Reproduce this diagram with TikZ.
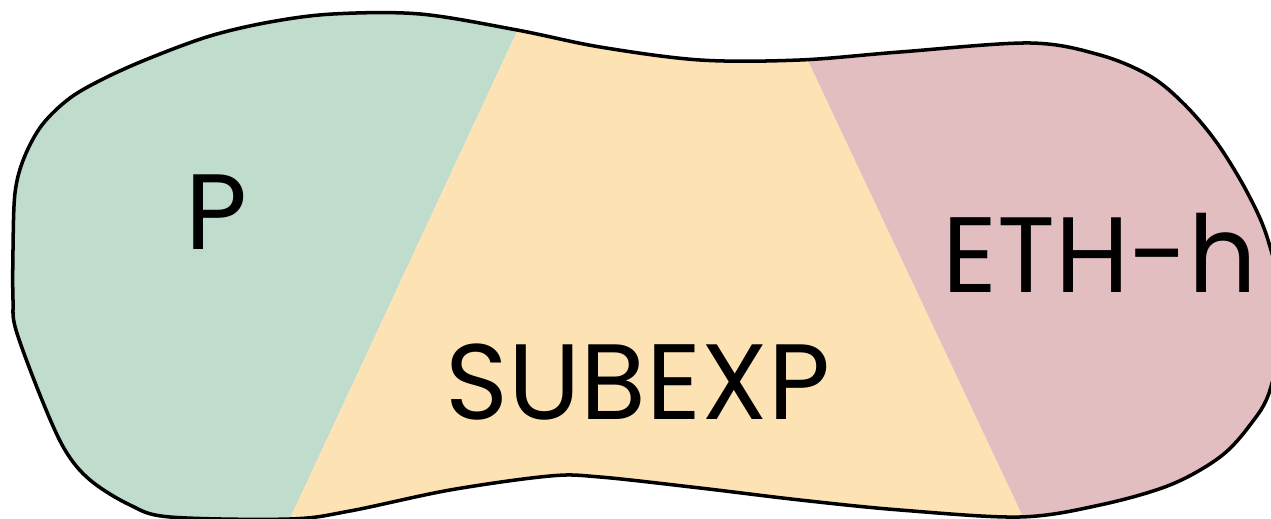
\documentclass[tikz,border=0pt]{standalone}
\usepackage{fontspec}
\setmainfont{Poppins}
\definecolor{pgreen}{RGB}{192,220,205}
\definecolor{subyellow}{RGB}{253,227,179}
\definecolor{ethpink}{RGB}{226,190,192}
\tikzset{
  classlabel/.style={anchor=base, inner sep=0pt, font=\fontsize{61}{72}\selectfont},
}
\begin{document}
\begin{tikzpicture}[x=0.02cm, y=-0.02cm, line join=round]
	\clip (0,0) rectangle (1271,519);
	% outline of the world of problems
	\path[save path=\blobpath] plot[smooth cycle, tension=0.55] coordinates {
		(13,250) (15,193) (24,158) (42,125) (70,98) (105,78) (150,58) (210,36)
		(270,22) (333,14) (420,14) (517,30) (600,47) (700,60) (800,60) (900,52)
		(1030,43) (1100,55) (1150,76) (1185,105) (1217,143) (1247,192) (1268,240)
		(1284,315) (1270,390) (1250,425) (1220,457) (1170,485) (1100,505)
		(1020,517) (900,510) (800,500) (700,488) (600,477) (550,476) (450,490)
		(350,511) (290,519) (170,517) (130,505) (90,480) (65,450) (42,400)
		(16,330) (13,300)};
	\begin{scope}
		\clip[use path=\blobpath];
		\fill[pgreen] (-20,-20) -- (541,-20) -- (280,540) -- (-20,540) -- cycle;
		\fill[subyellow] (541,-20) -- (770,-20) -- (1034,540) -- (280,540) -- cycle;
		\fill[ethpink] (770,-20) -- (1300,-20) -- (1300,540) -- (1034,540) -- cycle;
	\end{scope}
	\draw[line width=2pt, use path=\blobpath];
	\node[classlabel] (p) at (217,250) {P};
	\node[classlabel] (subexp) at (638,420) {SUBEXP};
	\node[classlabel] (ethh) at (1100,293) {ETH-h};
\end{tikzpicture}
\end{document}
